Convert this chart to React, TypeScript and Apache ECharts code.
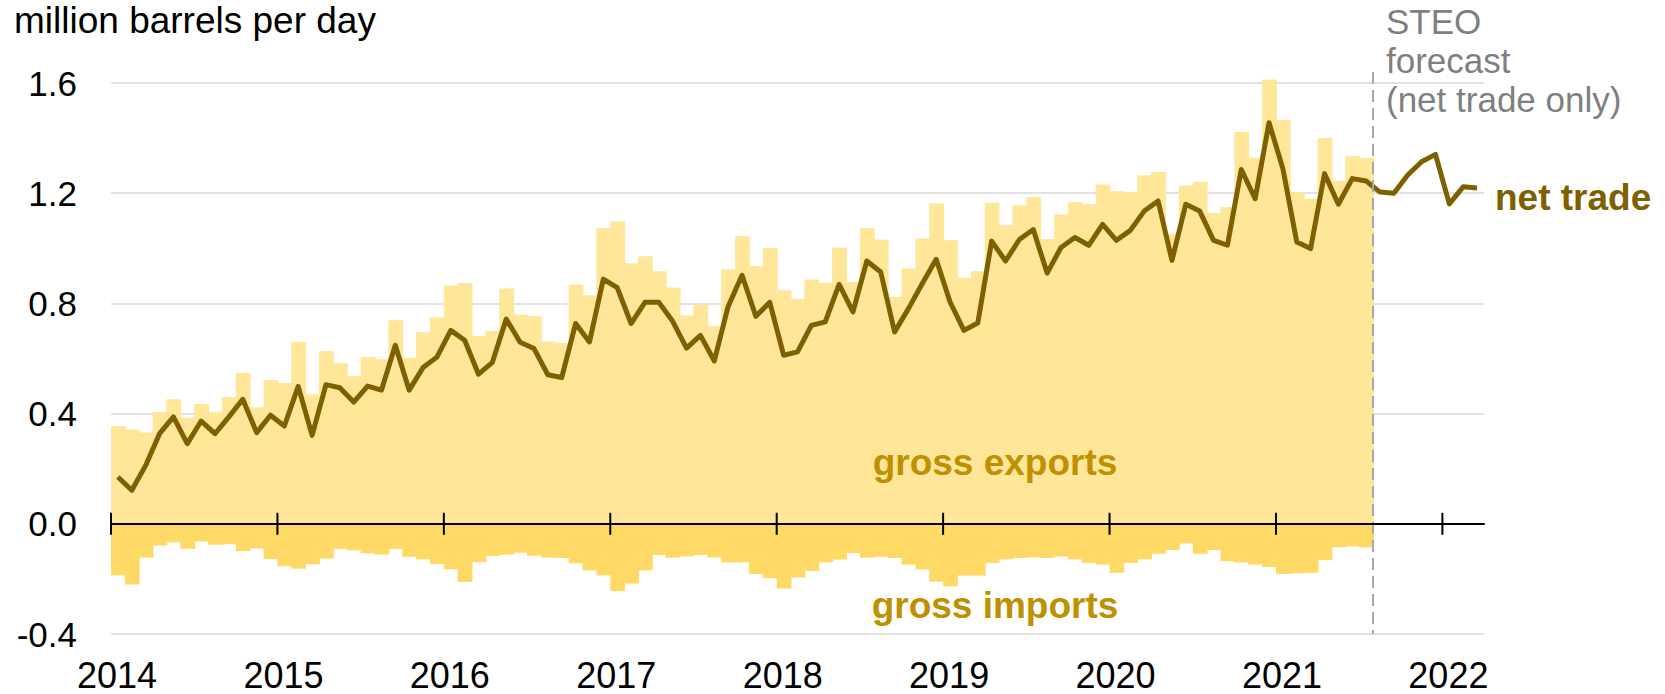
import React, { useEffect, useRef } from "react";
import * as echarts from "echarts";

// Tick labels (years) on the time axis
const yearLabels = ["2014", "2015", "2016", "2017", "2018", "2019", "2020", "2021", "2022"];
const yAxisMin = -0.4;
const yAxisMax = 1.6;
const yAxisStep = 0.4;

// Gross exports, monthly, Jan 2014 - Jul 2021 (million barrels per day)
const grossExports = [
  0.355, 0.342, 0.331, 0.406, 0.452, 0.385, 0.435, 0.405, 0.46, 0.547, 0.423, 0.521,
  0.511, 0.66, 0.47, 0.627, 0.583, 0.537, 0.605, 0.597, 0.739, 0.603, 0.695, 0.75,
  0.865, 0.874, 0.682, 0.7, 0.854, 0.76, 0.753, 0.662, 0.656, 0.869, 0.83, 1.073,
  1.098, 0.946, 0.971, 0.917, 0.858, 0.756, 0.794, 0.717, 0.924, 1.044, 0.935, 1.001,
  0.848, 0.816, 0.887, 0.875, 1.003, 0.877, 1.073, 1.032, 0.823, 0.927, 1.036, 1.163,
  1.029, 0.892, 0.917, 1.165, 1.084, 1.156, 1.186, 1.034, 1.123, 1.167, 1.16, 1.232,
  1.207, 1.203, 1.265, 1.277, 1.053, 1.228, 1.241, 1.128, 1.15, 1.422, 1.329, 1.613,
  1.467, 1.204, 1.18, 1.4, 1.244, 1.334, 1.328,
];

// Gross imports, monthly, Jan 2014 - Jul 2021 (negative)
const grossImports = [
  -0.187, -0.22, -0.123, -0.079, -0.067, -0.091, -0.064, -0.076, -0.074, -0.099, -0.09, -0.128,
  -0.154, -0.163, -0.147, -0.126, -0.091, -0.096, -0.107, -0.112, -0.091, -0.12, -0.129, -0.146,
  -0.165, -0.211, -0.139, -0.117, -0.112, -0.105, -0.116, -0.123, -0.124, -0.143, -0.169, -0.187,
  -0.244, -0.217, -0.169, -0.113, -0.123, -0.118, -0.113, -0.122, -0.14, -0.14, -0.182, -0.197,
  -0.235, -0.195, -0.171, -0.14, -0.13, -0.106, -0.123, -0.12, -0.124, -0.148, -0.166, -0.21,
  -0.227, -0.188, -0.188, -0.142, -0.129, -0.124, -0.122, -0.124, -0.119, -0.129, -0.142, -0.148,
  -0.178, -0.142, -0.129, -0.109, -0.095, -0.071, -0.109, -0.095, -0.136, -0.14, -0.148, -0.157,
  -0.182, -0.18, -0.178, -0.131, -0.085, -0.082, -0.086,
];

// Net trade, monthly, Jan 2014 - Mar 2022 (history + STEO forecast)
const netTrade = [
  0.17, 0.122, 0.212, 0.327, 0.388, 0.291, 0.373, 0.327, 0.388, 0.452, 0.331, 0.394,
  0.355, 0.499, 0.321, 0.505, 0.494, 0.442, 0.5, 0.485, 0.648, 0.485, 0.567, 0.605,
  0.702, 0.666, 0.543, 0.586, 0.743, 0.659, 0.636, 0.541, 0.531, 0.727, 0.66, 0.888,
  0.857, 0.727, 0.804, 0.804, 0.735, 0.638, 0.684, 0.591, 0.789, 0.902, 0.753, 0.804,
  0.612, 0.624, 0.72, 0.733, 0.869, 0.769, 0.954, 0.914, 0.696, 0.781, 0.872, 0.96,
  0.805, 0.702, 0.729, 1.026, 0.954, 1.032, 1.068, 0.91, 1.003, 1.039, 1.011, 1.087,
  1.029, 1.065, 1.135, 1.172, 0.956, 1.16, 1.135, 1.029, 1.011, 1.286, 1.18, 1.456,
  1.289, 1.023, 0.999, 1.271, 1.16, 1.253, 1.244, 1.204, 1.2, 1.266, 1.314, 1.341,
  1.161, 1.223, 1.219,
];

const months: string[] = netTrade.map(
  (_, i) => `${2014 + Math.floor(i / 12)}-${String((i % 12) + 1).padStart(2, "0")}`
);
const forecastStart = "2021-08";

const FONT = "'Liberation Sans', Arial, Helvetica, sans-serif";
const C_EXPORTS = "#FFE699";
const C_IMPORTS = "#FFD966";
const C_NET = "#7F6000";
const C_LABEL = "#BF9000";
const C_GRAY = "#7F7F7F";

function barRenderer(color: string) {
  return (_p: any, api: any) => {
    const idx = api.value(0);
    const base = api.coord([idx, 0]);
    const tip = api.coord([idx, api.value(1)]);
    const w = api.size([1, 0])[0];
    return {
      type: "rect",
      shape: {
        x: base[0] - w / 2,
        y: Math.min(base[1], tip[1]),
        width: w + 0.9,
        height: Math.abs(tip[1] - base[1]),
      },
      style: { fill: color },
    };
  };
}

export default function App() {
  const ref = useRef<HTMLDivElement>(null);

  useEffect(() => {
    if (!ref.current) return;
    const chart = echarts.init(ref.current, undefined, { renderer: "svg" });

    const yearTicks = yearLabels.map((_, i) => [i * 12, 0]);
    const forecastIdx = months.indexOf(forecastStart);

    chart.setOption({
      animation: false,
      backgroundColor: "#ffffff",
      textStyle: { fontFamily: FONT },
      grid: { left: 111, right: 181, top: 83, bottom: 60, containLabel: false },
      xAxis: [
        {
          type: "category",
          data: months,
          boundaryGap: true,
          z: 10,
          axisLine: { show: true, onZero: true, lineStyle: { color: "#000", width: 2 } },
          axisTick: { show: false },
          axisLabel: { show: false },
          splitLine: { show: false },
        },
        {
          type: "value",
          min: 0,
          max: months.length,
          interval: 12,
          position: "bottom",
          axisLine: { show: false, onZero: false },
          axisTick: { show: false },
          splitLine: { show: false },
          axisLabel: {
            show: true,
            showMaxLabel: false,
            margin: 23,
            fontSize: 36,
            color: "#000",
            fontFamily: FONT,
            padding: [0, 0, 0, 12],
            formatter: (v: number) => {
              const i = Math.round(v / 12);
              return yearLabels[i] ?? "";
            },
          },
        },
      ],
      yAxis: {
        type: "value",
        min: yAxisMin,
        max: yAxisMax,
        interval: yAxisStep,
        axisLine: { show: false },
        axisTick: { show: false },
        splitLine: { show: true, lineStyle: { color: "#D9D9D9", width: 1.5 } },
        axisLabel: {
          margin: 34,
          fontSize: 35,
          color: "#000",
          fontFamily: FONT,
          formatter: (v: number) => v.toFixed(1),
        },
      },
      series: [
        {
          name: "gross exports",
          type: "custom",
          xAxisIndex: 0,
          yAxisIndex: 0,
          data: grossExports.map((v, i) => [i, v]),
          renderItem: barRenderer(C_EXPORTS),
          z: 2,
          silent: true,
        },
        {
          name: "gross imports",
          type: "custom",
          xAxisIndex: 0,
          yAxisIndex: 0,
          data: grossImports.map((v, i) => [i, v]),
          renderItem: barRenderer(C_IMPORTS),
          z: 2,
          silent: true,
        },
        {
          name: "net trade",
          type: "line",
          xAxisIndex: 0,
          data: netTrade,
          symbol: "none",
          lineStyle: { color: C_NET, width: 5, join: "round", cap: "butt" },
          z: 5,
          silent: true,
        },
        {
          name: "year ticks",
          type: "custom",
          xAxisIndex: 1,
          yAxisIndex: 0,
          data: yearTicks,
          z: 12,
          silent: true,
          renderItem: (_p: any, api: any) => {
            const pt = api.coord([api.value(0), 0]);
            return {
              type: "line",
              shape: { x1: pt[0], y1: pt[1] - 11, x2: pt[0], y2: pt[1] + 11 },
              style: { stroke: "#000", lineWidth: 2 },
            };
          },
        },
        {
          name: "forecast divider",
          type: "custom",
          xAxisIndex: 1,
          yAxisIndex: 0,
          data: [[forecastIdx, 0]],
          z: 8,
          silent: true,
          clip: false,
          renderItem: (_p: any, api: any) => {
            const top = api.coord([api.value(0), yAxisMax + 0.04]);
            const bot = api.coord([api.value(0), yAxisMin]);
            return {
              type: "line",
              shape: { x1: top[0], y1: top[1], x2: bot[0], y2: bot[1] },
              style: { stroke: "#A6A6A6", lineWidth: 2, lineDash: [12, 6] },
            };
          },
        },
      ],
      graphic: [
        {
          type: "text",
          left: 14,
          top: 2,
          style: { text: "million barrels per day", font: `37px ${FONT}`, fill: "#000" },
        },
        {
          type: "text",
          x: 1386,
          y: 21,
          style: { text: "STEO", font: `35px ${FONT}`, fill: C_GRAY, verticalAlign: "middle" },
        },
        {
          type: "text",
          x: 1386,
          y: 60,
          style: { text: "forecast", font: `35px ${FONT}`, fill: C_GRAY, verticalAlign: "middle" },
        },
        {
          type: "text",
          x: 1386,
          y: 99,
          style: { text: "(net trade only)", font: `35px ${FONT}`, fill: C_GRAY, verticalAlign: "middle" },
        },
        {
          type: "text",
          x: 1495,
          y: 197,
          style: { text: "net trade", font: `bold 37px ${FONT}`, fill: C_NET, verticalAlign: "middle" },
          z: 20,
        },
        {
          type: "text",
          x: 995,
          y: 462,
          style: {
            text: "gross exports",
            font: `bold 37px ${FONT}`,
            fill: C_LABEL,
            align: "center",
            verticalAlign: "middle",
          },
          z: 20,
        },
        {
          type: "text",
          x: 995,
          y: 605,
          style: {
            text: "gross imports",
            font: `bold 37px ${FONT}`,
            fill: C_LABEL,
            align: "center",
            verticalAlign: "middle",
          },
          z: 20,
        },
      ],
    });

    return () => chart.dispose();
  }, []);

  return (
    <div
      ref={ref}
      style={{ position: "absolute", left: 0, top: 0, width: 1665, height: 694 }}
    />
  );
}
